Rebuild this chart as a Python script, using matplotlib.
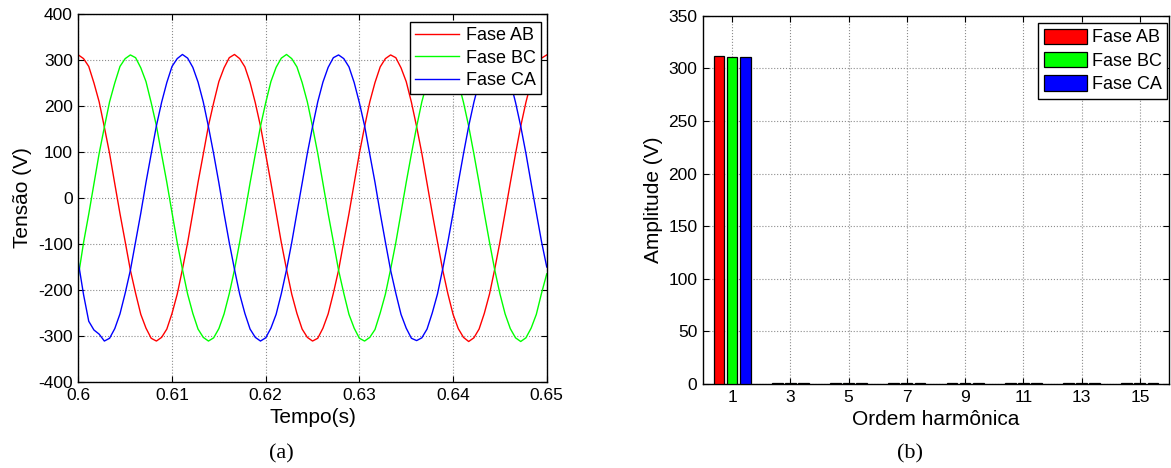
import numpy as np
import matplotlib
matplotlib.use("Agg")
import matplotlib.pyplot as plt

plt.rcParams['font.family'] = ['Liberation Sans', 'DejaVu Sans']
plt.rcParams['axes.unicode_minus'] = False

# ---------------- data: panel (a) ----------------
t_start, t_end = 0.60, 0.65
fase_ab = [311, 303, 286, 250, 209, 154, 97, 31, -34, -95, -157, -207, -253, -283, -305,
           -311, -303, -285, -251, -209, -155, -97, -32, 34, 95, 157, 207, 253, 283, 305,
           312, 303, 285, 251, 207, 156, 95, 33, -32, -97, -155, -209, -251, -285, -303,
           -311, -305, -283, -252, -207, -157, -95, -34, 32, 97, 155, 209, 251, 285, 303,
           311, 305, 283, 253, 208, 155, 97, 32, -33, -95, -156, -208, -253, -284, -303,
           -312, -304, -285, -251, -209, -155, -96, -32, 33, 96, 156, 208, 252, 284, 304,
           311]
fase_bc = [-170, -97, -35, 31, 97, 154, 209, 250, 286, 303, 311, 305, 283, 253, 207,
           157, 95, 34, -32, -97, -155, -209, -251, -285, -303, -311, -304, -284, -252, -208,
           -156, -96, -33, 33, 95, 156, 207, 253, 284, 304, 312, 303, 285, 251, 209,
           155, 97, 32, -34, -95, -157, -207, -253, -283, -305, -311, -303, -286, -250, -209,
           -155, -97, -32, 34, 96, 155, 209, 251, 285, 303, 311, 304, 284, 252, 208,
           156, 96, 33, -33, -96, -156, -208, -252, -284, -304, -312, -304, -283, -253, -207,
           -165]
fase_ca = [-140, -210, -268, -287, -296, -311, -305, -284, -252, -207, -157, -95, -33, 34, 96,
           157, 208, 251, 286, 303, 312, 304, 284, 252, 209, 155, 96, 33, -34, -97,
           -155, -209, -251, -285, -303, -311, -304, -283, -253, -208, -156, -97, -32, 32, 97,
           155, 209, 252, 284, 305, 311, 303, 285, 251, 207, 157, 95, 34, -33, -96,
           -157, -207, -253, -283, -305, -310, -304, -285, -250, -209, -155, -96, -33, 33, 96,
           156, 208, 252, 284, 303, 311, 305, 283, 253, 208, 156, 97, 32, -32, -95,
           -150]
t = np.linspace(t_start, t_end, len(fase_ab))

# ---------------- data: panel (b) ----------------
harmonicas = [1, 3, 5, 7, 9, 11, 13, 15]
amp_ab = [311.5, 0.8, 0.7, 0.8, 0.7, 0.8, 0.7, 0.8]
amp_bc = [310.5, 0.7, 0.8, 0.7, 0.8, 0.7, 0.8, 0.7]
amp_ca = [310.5, 0.8, 0.8, 0.7, 0.7, 0.8, 0.8, 0.7]

series_names = ['Fase AB', 'Fase BC', 'Fase CA']
cores = ['#ff0000', '#00ff00', '#0000ff']

fig = plt.figure(figsize=(11.71, 4.68), dpi=100)
ax1 = fig.add_axes([0.0669, 0.1838, 0.4, 0.7863])
ax2 = fig.add_axes([0.6003, 0.1795, 0.398, 0.7869])

TICK_FS = 12.5
LAB_FS = 15
LEG_FS = 13

def style(ax):
    ax.grid(True, color='#8c8c8c', linestyle=':', linewidth=0.8)
    ax.set_axisbelow(True)
    ax.tick_params(direction='in', top=True, right=True, length=4, width=0.8,
                   labelsize=TICK_FS, pad=4)
    for s in ax.spines.values():
        s.set_linewidth(1.0)
        s.set_color('black')

# panel (a)
for y, c, n in zip([fase_ab, fase_bc, fase_ca], cores, series_names):
    ax1.plot(t, y, color=c, linewidth=1.0, label=n)
ax1.set_xlim(0.6, 0.65)
ax1.set_ylim(-400, 400)
ax1.set_xticks([0.6, 0.61, 0.62, 0.63, 0.64, 0.65])
ax1.set_xticklabels(['0.6', '0.61', '0.62', '0.63', '0.64', '0.65'])
ax1.set_yticks(np.arange(-400, 401, 100))
style(ax1)
ax1.set_xlabel('Tempo(s)', fontsize=LAB_FS, labelpad=4)
ax1.set_ylabel('Tensão (V)', fontsize=LAB_FS, labelpad=4)
leg1 = ax1.legend(loc='upper right', bbox_to_anchor=(0.988, 0.979), borderaxespad=0,
                  fontsize=LEG_FS, fancybox=False, framealpha=1, edgecolor='black',
                  handlelength=2.4, handletextpad=0.4, labelspacing=0.3, borderpad=0.3)
leg1.get_frame().set_linewidth(1.0)

# panel (b)
x = np.array(harmonicas, dtype=float)
w = 0.37
for off, vals, c, n in zip([-0.45, 0.0, 0.45], [amp_ab, amp_bc, amp_ca], cores, series_names):
    ax2.bar(x + off, vals, width=w, color=c, edgecolor='black', linewidth=0.9, label=n, zorder=3)
ax2.set_xlim(0, 16)
ax2.set_ylim(0, 350)
ax2.set_xticks(harmonicas)
ax2.set_yticks(np.arange(0, 351, 50))
style(ax2)
ax2.set_xlabel('Ordem harmônica', fontsize=LAB_FS, labelpad=4)
ax2.set_ylabel('Amplitude (V)', fontsize=LAB_FS, labelpad=4)
leg2 = ax2.legend(loc='upper right', bbox_to_anchor=(0.9957, 0.980), borderaxespad=0,
                  fontsize=LEG_FS, fancybox=False, framealpha=1, edgecolor='black',
                  handlelength=2.4, handleheight=0.95, handletextpad=0.25,
                  labelspacing=0.3, borderpad=0.3)
leg2.get_frame().set_linewidth(1.0)

fig.text(281 / 1171, 1 - 454 / 468, '(a)', family=['Liberation Serif', 'DejaVu Serif'],
         fontsize=16, ha='center', va='center')
fig.text(910.5 / 1171, 1 - 454 / 468, '(b)', family=['Liberation Serif', 'DejaVu Serif'],
         fontsize=16, ha='center', va='center')

fig.savefig('out.png', dpi=100)
